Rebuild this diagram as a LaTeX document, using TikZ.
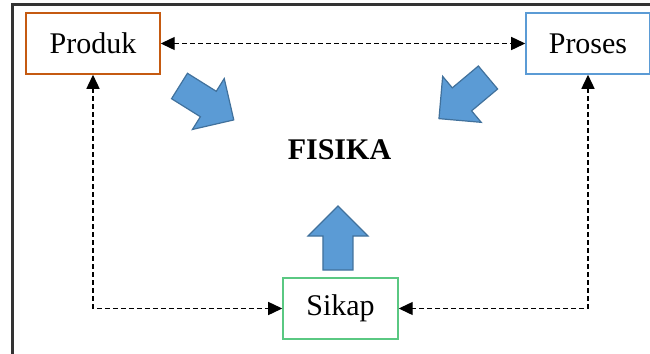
\documentclass[tikz,border=0pt]{standalone}
\usepackage{fontspec}
\setmainfont{Liberation Serif}
\usepackage{tikz}
\usetikzlibrary{arrows.meta}

\definecolor{oranye}{RGB}{197,90,17}
\definecolor{birugaris}{RGB}{91,155,213}
\definecolor{hijau}{RGB}{90,200,130}
\definecolor{birupanah}{RGB}{91,155,213}
\definecolor{tepipanah}{RGB}{65,113,156}

\begin{document}
\begin{tikzpicture}[x=0.5pt, y=-0.5pt,
    kotak/.style={draw, line width=0.75pt, minimum height=30.5pt, font=\fontsize{15}{18}\selectfont},
    garis/.style={dash pattern=on 2.5pt off 1.5pt, line width=0.7pt, {Triangle[length=7pt,width=6.5pt]}-{Triangle[length=7pt,width=6.5pt]}},
    panah/.pic={\draw[fill=birupanah, draw=tepipanah, line width=0.6pt, line join=miter]
        (0,-15) -- (34,-15) -- (34,-30) -- (64,0) -- (34,30) -- (34,15) -- (0,15) -- cycle;}]
    \useasboundingbox (0,0) rectangle (650,354);

    % Outer frame (right and bottom edges fall outside)
    \draw[black!80, line width=1.2pt] (12.5,4.5) rectangle (670,370);

    % The three aspects
    \node[kotak, draw=oranye, minimum width=67pt] (produk) at (93,43.5) {Produk};
    \node[kotak, draw=birugaris, minimum width=62pt] (proses) at (588,43.5) {Proses};
    \node[kotak, draw=hijau, minimum width=57.5pt] (sikap) at (340.5,308.5) {Sikap};

    % Centre
    \node[font=\fontsize{15}{18}\selectfont\bfseries] (fisika) at (339.5,150) {FISIKA};

    % Dashed links between the aspects
    \draw[garis] (produk) -- (proses);
    \draw[garis] (produk.south) |- (sikap.west);
    \draw[garis] (proses.south) |- (sikap.east);

    % Block arrows pointing at FISIKA
    \pic[rotate=-32] at (179.5,86) {panah};
    \pic[rotate=-140] at (488,77.5) {panah};
    \pic[rotate=90] at (338,270) {panah};
\end{tikzpicture}
\end{document}
